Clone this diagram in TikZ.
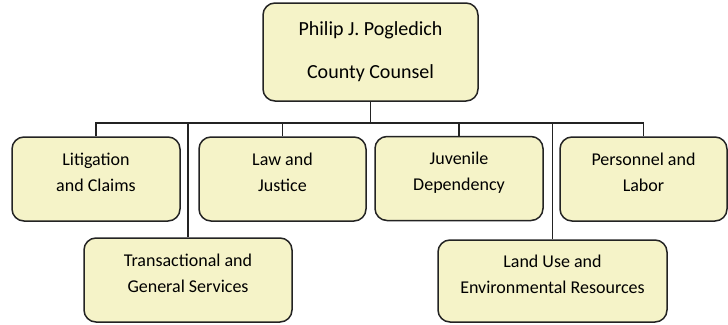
\documentclass[tikz,border=0pt]{standalone}
\usepackage{fontspec}
\setmainfont{Carlito}
\definecolor{boxfill}{RGB}{245,243,200}
\definecolor{boxline}{RGB}{35,35,35}

\begin{document}
\begin{tikzpicture}[x=1pt, y=-1pt,
    unit/.style={draw=boxline, fill=boxfill, line width=1.5pt, rounded corners=12pt,
      align=center, inner sep=0pt},
    head/.style={unit, minimum width=215pt, minimum height=98pt, font=\fontsize{20}{43}\selectfont},
    dept/.style={unit, minimum height=84pt, text depth=14pt, font=\fontsize{18}{26}\selectfont},
    link/.style={draw=boxline, line width=1.6pt}]
    \useasboundingbox (0,0) rectangle (728,324);
    \node[head] (counsel) at (370.5,52) {Philip J. Pogledich\\County Counsel};
    \node[dept, minimum width=168pt] (lit) at (96,179) {Litigation\\and Claims};
    \node[dept, minimum width=167pt] (law) at (282.5,179) {Law and\\Justice};
    \node[dept, minimum width=168pt] (juv) at (459,178.5) {Juvenile\\Dependency};
    \node[dept, minimum width=167pt] (pers) at (643.5,179) {Personnel and\\Labor};
    \node[dept, minimum width=208pt] (trans) at (188,280) {Transactional and\\General Services};
    \node[dept, minimum width=229pt, minimum height=82pt] (land) at (552.5,281) {Land Use and\\Environmental Resources};
    \coordinate (bus) at (370.5,123);
    \draw[link] (counsel.south) -- (bus);
    \draw[link] (lit.north) |- (bus);
    \draw[link] (law.north) |- (bus);
    \draw[link] (juv.north) |- (bus);
    \draw[link] (pers.north) |- (bus);
    \draw[link] (trans.north) |- (bus);
    \draw[link] (land.north) |- (bus);
\end{tikzpicture}
\end{document}
